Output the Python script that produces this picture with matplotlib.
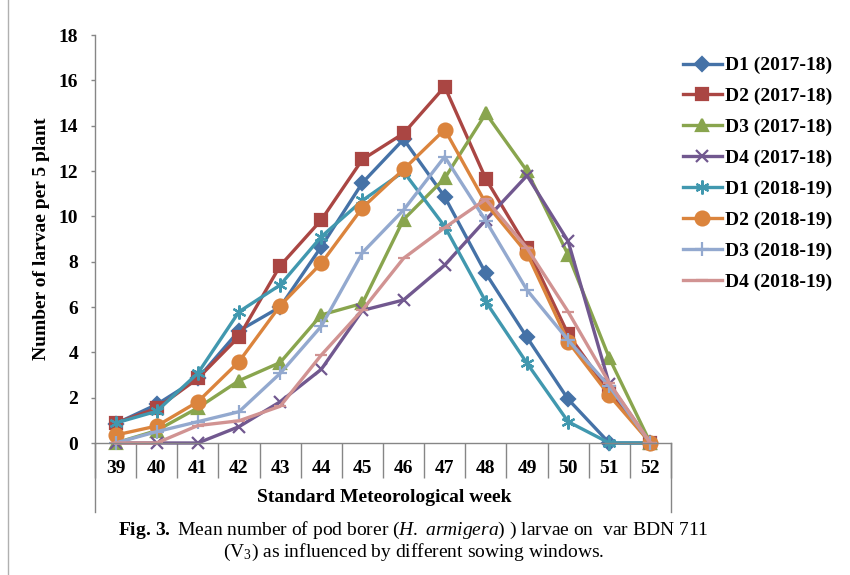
import matplotlib
matplotlib.use("Agg")
import matplotlib.pyplot as plt
from matplotlib.lines import Line2D

plt.rcParams['font.family'] = ['Liberation Serif', 'DejaVu Serif']
plt.rcParams['mathtext.fontset'] = 'custom'
plt.rcParams['mathtext.rm'] = 'Liberation Serif'
plt.rcParams['mathtext.it'] = 'Liberation Serif:italic'
plt.rcParams['mathtext.bf'] = 'Liberation Serif:bold'

# standard meteorological weeks
weeks = ['39', '40', '41', '42', '43', '44', '45', '46', '47', '48', '49', '50', '51', '52']

# larvae per 5 plants
d1_1718 = [0.85, 1.7, 2.85, 4.95, 6.0, 8.66, 11.48, 13.4, 10.86, 7.48, 4.66, 1.93, 0, 0]
d2_1718 = [0.88, 1.53, 2.85, 4.69, 7.82, 9.84, 12.51, 13.66, 15.72, 11.65, 8.62, 4.8, 2.25, 0]
d3_1718 = [0, 0.55, 1.55, 2.75, 3.55, 5.65, 6.16, 9.86, 11.68, 14.54, 12.0, 8.3, 3.75, 0]
d4_1718 = [0, 0, 0, 0.72, 1.82, 3.25, 5.85, 6.31, 7.85, 9.85, 11.8, 8.9, 2.6, 0]
d1_1819 = [0.88, 1.4, 3.08, 5.79, 6.97, 9.1, 10.7, 11.97, 9.55, 6.23, 3.52, 0.94, 0, 0]
d2_1819 = [0.35, 0.75, 1.82, 3.59, 6.06, 7.93, 10.38, 12.07, 13.83, 10.57, 8.37, 4.47, 2.1, 0]
d3_1819 = [0, 0.5, 0.94, 1.38, 3.07, 5.15, 8.4, 10.28, 12.63, 9.8, 6.75, 4.54, 2.5, 0]
d4_1819 = [0, 0, 0.77, 0.98, 1.62, 3.88, 5.87, 8.15, 9.5, 10.75, 8.6, 5.79, 2.65, 0]

series = [
    ('D1 (2017-18)', d1_1718, '#4572A7', 'D', 7),
    ('D2 (2017-18)', d2_1718, '#AA4643', 's', 9),
    ('D3 (2017-18)', d3_1718, '#89A54E', '^', 9),
    ('D4 (2017-18)', d4_1718, '#71588F', 'x', 9),
    ('D1 (2018-19)', d1_1819, '#4198AF', (6, 2, 0), 10),
    ('D2 (2018-19)', d2_1819, '#DB843D', 'o', 10),
    ('D3 (2018-19)', d3_1819, '#93A9CF', '+', 10),
    ('D4 (2018-19)', d4_1819, '#D19392', '_', 9),
]

fs = 14
fig = plt.figure(figsize=(8.5, 5.75), dpi=100)
ax = fig.add_axes([95 / 850, 1 - 443 / 575, 576 / 850, 408 / 575])

x = list(range(len(weeks)))
for name, vals, col, mk, ms in series:
    ax.plot(x, vals, color=col, lw=2.4, marker=mk, ms=ms, mew=1.6,
            mfc=col, mec=col, label=name, clip_on=False)

gray = '#868686'
ax.set_xlim(-0.5, len(weeks) - 0.5)
ax.set_ylim(0, 18)
ax.set_yticks(range(0, 19, 2))
ax.set_xticks(x)
ax.set_xticklabels(weeks)
ax.set_xticks([i - 0.5 for i in range(len(weeks) + 1)], minor=True)
ax.tick_params(axis='x', which='major', length=0, pad=12, labelsize=fs)
ax.tick_params(axis='x', which='minor', length=25, width=1, color=gray, direction='out')
ax.tick_params(axis='y', length=3, width=1, color=gray, pad=9, labelsize=fs)
for lab in ax.get_xticklabels() + ax.get_yticklabels():
    lab.set_fontweight('bold')

for s in ['top', 'right']:
    ax.spines[s].set_visible(False)
for s in ['left', 'bottom']:
    ax.spines[s].set_color(gray)
    ax.spines[s].set_linewidth(1)

# long frame lines under the category axis
trans = ax.get_xaxis_transform()
for xv in [-0.5, len(weeks) - 0.5]:
    ax.plot([xv, xv], [0, -0.169], transform=trans, color=gray, lw=1, clip_on=False)

fig.text(42 / 850, 1 - 239 / 575, 'Number of larvae per 5 plant', rotation=90,
         ha='center', va='center', fontsize=fs, fontweight='bold')
fig.text(384 / 850, 1 - 497 / 575, 'Standard Meteorological week',
         ha='center', va='center', fontsize=fs, fontweight='bold')

fig.text(413 / 850, 1 - 530 / 575,
         r'$\mathbf{Fig.\,3.}$ Mean number of pod borer ($\mathit{H.\ armigera)}$ ) larvae on  var BDN 711',
         ha='center', va='center', fontsize=fs)
fig.text(414 / 850, 1 - 552 / 575, r'(V$_3$) as influenced by different sowing windows.',
         ha='center', va='center', fontsize=fs)

fig.legend(loc='upper left', bbox_to_anchor=(675 / 850, 1 - 49 / 575), frameon=False,
           prop={'weight': 'bold', 'size': fs}, handlelength=2.0, handletextpad=0.15,
           labelspacing=0.68, borderaxespad=0)

# left border of the figure panel
fig.add_artist(Line2D([8 / 850, 8 / 850], [0, 1], color='#b0b0b0', lw=1))

fig.savefig('out.png', dpi=100)
